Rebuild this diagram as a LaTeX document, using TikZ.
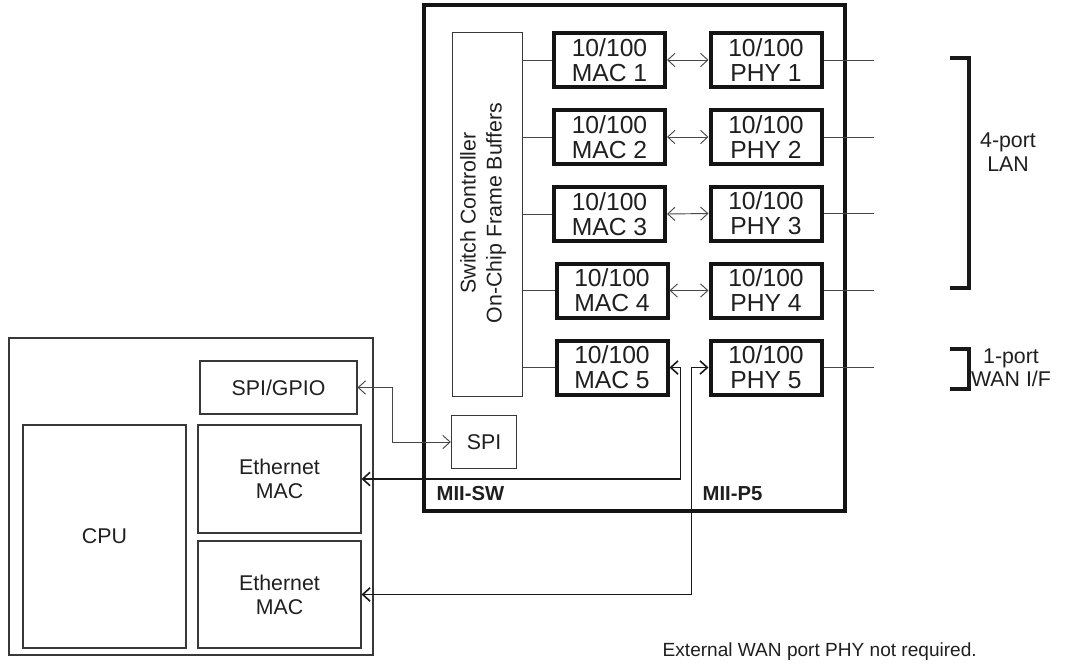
\documentclass[tikz,border=0pt]{standalone}
\usepackage{fontspec}
\setmainfont{Liberation Sans}
\usetikzlibrary{arrows.meta}
\begin{document}
\begin{tikzpicture}[x=0.75pt,y=-0.75pt,
  txt/.style={text=black!88},
  portbox/.style={draw=black!92, line width=3pt, minimum width=83.25pt, minimum height=40.5pt,
    inner sep=0pt, align=center, txt, font=\fontsize{18.5}{18.8}\selectfont},
  plainbox/.style={draw=black!78, line width=0.8pt, inner sep=0pt, align=center, txt,
    font=\fontsize{16}{18}\selectfont},
  wire/.style={draw=black!72, line width=0.7pt},
  bus/.style={draw=black!90, line width=1.2pt},
  tip/.tip={Straight Barb[length=5.5pt,width=10pt]},
  lbl/.style={txt, align=center, font=\fontsize{16}{17.5}\selectfont},
  brk/.style={draw=black!90, line width=3pt}
]
\useasboundingbox (0,0) rectangle (1065,664);

% chip
\node[draw=black!92, line width=3pt, minimum width=315.75pt, minimum height=379pt] (chip) at (634,258) {};

% switch controller
\node[plainbox, minimum width=52.5pt, minimum height=273pt] (sw) at (487.5,214.5) {};
\node[lbl, rotate=90, font=\fontsize{16}{19.5}\selectfont] (swtxt) at (483,213) {Switch Controller\\On-Chip Frame Buffers};

% MAC and PHY
\node[portbox] (mac1) at (609.5,60) {10/100\\MAC 1};
\node[portbox] (mac2) at (609.5,137) {10/100\\MAC 2};
\node[portbox] (mac3) at (609.5,214) {10/100\\MAC 3};
\node[portbox] (mac4) at (612,290.5) {10/100\\MAC 4};
\node[portbox] (mac5) at (612,367.5) {10/100\\MAC 5};
\node[portbox] (phy1) at (766,60) {10/100\\PHY 1};
\node[portbox] (phy2) at (766,137) {10/100\\PHY 2};
\node[portbox] (phy3) at (766,213.5) {10/100\\PHY 3};
\node[portbox] (phy4) at (766,290.5) {10/100\\PHY 4};
\node[portbox] (phy5) at (766,367.5) {10/100\\PHY 5};

\foreach \k/\y in {1/60,2/137,3/213.5,4/290.5,5/367.5}{
  \coordinate (port\k) at (874,\y);
  \draw[wire] (sw.east |- mac\k.west) -- (mac\k.west);
  \draw[wire] (phy\k.east) -- (port\k);
}
\foreach \k in {1,2,3,4}{
  \draw[wire, tip-tip] (mac\k.east) -- (phy\k.west);
}

% SPI
\node[plainbox, minimum width=49pt, minimum height=40pt] (spi) at (484,442) {SPI};

% labels in chip
\node[txt, anchor=base west, font=\bfseries\fontsize{15.2}{17}\selectfont] (miisw) at (432,500) {MII-SW};
\node[txt, anchor=base west, font=\bfseries\fontsize{15.2}{17}\selectfont] (miip5) at (698,500) {MII-P5};

% host
\node[draw=black!78, line width=0.8pt, minimum width=273pt, minimum height=237.75pt] (host) at (191,496.5) {};
\node[plainbox, minimum width=117.75pt, minimum height=39.75pt] (spigpio) at (278.5,387.5) {SPI/GPIO};
\node[plainbox, minimum width=122.25pt, minimum height=167.25pt] (cpu) at (104.5,536.5) {CPU};
\node[plainbox, minimum width=122.25pt, minimum height=81pt] (eth1) at (279.5,479) {Ethernet\\MAC};
\node[plainbox, minimum width=122.25pt, minimum height=80.25pt] (eth2) at (279.5,594.5) {Ethernet\\MAC};

% connections
\draw[wire, tip-tip] (spigpio.east) -- ++(35,0) |- (spi.west);
\draw[bus, tip-tip] (mac5.east) -- ++(11,0) |- (eth1.east);
\draw[bus, tip-tip] (phy5.west) -- ++(-17,0) |- (eth2.east);

% brackets
\draw[brk] (950,58) -- (969,58) -- (969,288) -- (950,288);
\draw[brk] (950,349) -- (969,349) -- (969,389) -- (950,389);
\node[lbl] (lan) at (1008,152) {4-port\\LAN};
\node[lbl] (wan) at (1011,368) {1-port\\WAN I/F};

% note
\node[txt, anchor=base west, font=\fontsize{14.3}{16}\selectfont] (note) at (658,656) {External WAN port PHY not required.};
\end{tikzpicture}
\end{document}
